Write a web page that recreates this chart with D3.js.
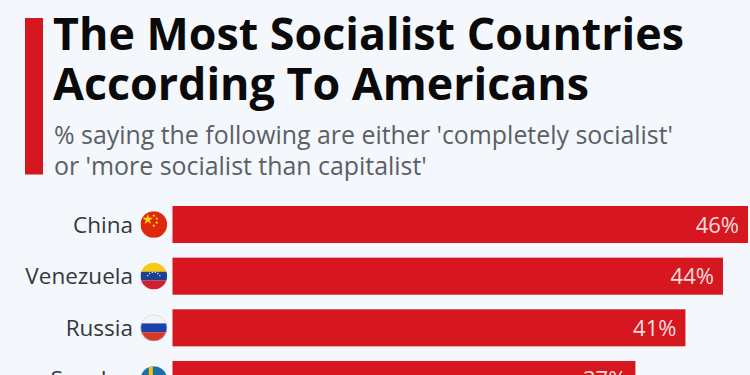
<!DOCTYPE html>
<html>
<head>
<meta charset="utf-8">
<script src="https://cdn.jsdelivr.net/npm/d3@7"></script>
<style>
html, body { margin: 0; padding: 0; background: #f4f7fb; overflow: hidden; }
svg { display: block; }
text { font-family: "Open Sans", sans-serif; }
</style>
</head>
<body>
<div id="chart"></div>
<script>
const countries = ["China", "Venezuela", "Russia", "Sweden"];
const shares = [46, 44, 41, 37];
const titleLines = ["The Most Socialist Countries", "According To Americans"];
const subtitleLines = ["% saying the following are either 'completely socialist'", "or 'more socialist than capitalist'"];

const width = 750, height = 375;
const red = "#d61720";

const svg = d3.select("#chart")
    .append("svg")
    .attr("width", width)
    .attr("height", height);

svg.append("rect")
    .attr("x", 25).attr("y", 18)
    .attr("width", 18).attr("height", 156.5)
    .attr("fill", red);

// Title and subtitle
svg.selectAll("text.title")
    .data(titleLines)
    .join("text")
    .attr("class", "title")
    .attr("x", 53)
    .attr("y", (d, i) => 50 + i * 49.5)
    .style("font-size", "44.8px")
    .style("font-weight", "700")
    .attr("fill", "#0a0a0a")
    .text(d => d);

svg.selectAll("text.subtitle")
    .data(subtitleLines)
    .join("text")
    .attr("class", "subtitle")
    .attr("x", 54)
    .attr("y", (d, i) => 144 + i * 31)
    .style("font-size", "24.9px")
    .attr("fill", "#5a5f66")
    .text(d => d);

// Scales
const x = d3.scaleLinear().domain([0, 46]).range([172.5, 748]);
const y = d3.scaleBand()
    .domain(countries)
    .range([206, 398])
    .paddingInner(0.283)
    .paddingOuter(0);

// Bars
svg.selectAll("rect.bar")
    .data(countries)
    .join("rect")
    .attr("class", "bar")
    .attr("x", x(0))
    .attr("y", d => y(d))
    .attr("width", (d, i) => x(shares[i]) - x(0))
    .attr("height", y.bandwidth())
    .attr("fill", red);

// Value labels
svg.selectAll("text.value")
    .data(countries)
    .join("text")
    .attr("class", "value")
    .attr("x", (d, i) => x(shares[i]) - 9)
    .attr("y", d => y(d) + y.bandwidth() / 2 + 8)
    .attr("text-anchor", "end")
    .style("font-size", "22px")
    .attr("fill", "#f6dcdc")
    .text((d, i) => shares[i] + "%");

// Country labels
svg.selectAll("text.country")
    .data(countries)
    .join("text")
    .attr("class", "country")
    .attr("x", 133)
    .attr("y", d => y(d) + y.bandwidth() / 2 + 8)
    .attr("text-anchor", "end")
    .style("font-size", "22.5px")
    .attr("fill", "#33383d")
    .text(d => d);

// Flags: horizontal stripes clipped to a circle
const flagStripes = {
    China: [["#de2910", 1]],
    Venezuela: [["#f6c913", 1], ["#1f3f8f", 1], ["#d3202f", 1]],
    Russia: [["#f4f4f4", 1], ["#1c3fa8", 1], ["#d5392b", 1]],
    Sweden: [["#1a6fa8", 1]]
};
const flagR = 13.3, flagX = 153.8;

const defs = svg.append("defs");
const flags = svg.selectAll("g.flag")
    .data(countries)
    .join("g")
    .attr("class", "flag")
    .attr("transform", d => `translate(${flagX},${y(d) + y.bandwidth() / 2})`);

defs.selectAll("clipPath")
    .data(countries)
    .join("clipPath")
    .attr("id", d => "clip-" + d)
    .append("circle")
    .attr("r", flagR);

flags.each(function(name) {
    const g = d3.select(this).append("g").attr("clip-path", `url(#clip-${name})`);
    const stripes = flagStripes[name];
    const band = d3.scaleBand().domain(d3.range(stripes.length)).range([-flagR, flagR]);
    g.selectAll("rect")
        .data(stripes)
        .join("rect")
        .attr("x", -flagR)
        .attr("y", (d, i) => band(i))
        .attr("width", flagR * 2)
        .attr("height", band.bandwidth())
        .attr("fill", d => d[0]);

    if (name === "China") {
        const star = d3.symbol().type(d3.symbolStar);
        g.append("path").attr("d", star.size(34)()).attr("transform", "translate(-6,-5)").attr("fill", "#ffde00");
        [[0, -9], [3, -6], [3, -2], [0, 1]].forEach(p => {
            g.append("path").attr("d", star.size(4)()).attr("transform", `translate(${p})`).attr("fill", "#ffde00");
        });
    }
    if (name === "Venezuela") {
        d3.range(-60, 61, 24).forEach(a => {
            g.append("circle")
                .attr("cx", 7 * Math.sin(a * Math.PI / 180))
                .attr("cy", 3 - 7 * Math.cos(a * Math.PI / 180))
                .attr("r", 0.7)
                .attr("fill", "#fff");
        });
    }
    if (name === "Sweden") {
        g.append("rect").attr("x", -flagR).attr("y", -2).attr("width", flagR * 2).attr("height", 4).attr("fill", "#f5c400");
        g.append("rect").attr("x", -5).attr("y", -flagR).attr("width", 4).attr("height", flagR * 2).attr("fill", "#f5c400");
    }
    if (name === "Russia") {
        d3.select(this).append("circle").attr("r", flagR - 0.25).attr("fill", "none").attr("stroke", "#c9ccd1").attr("stroke-width", 0.5);
    }
});
</script>
</body>
</html>
